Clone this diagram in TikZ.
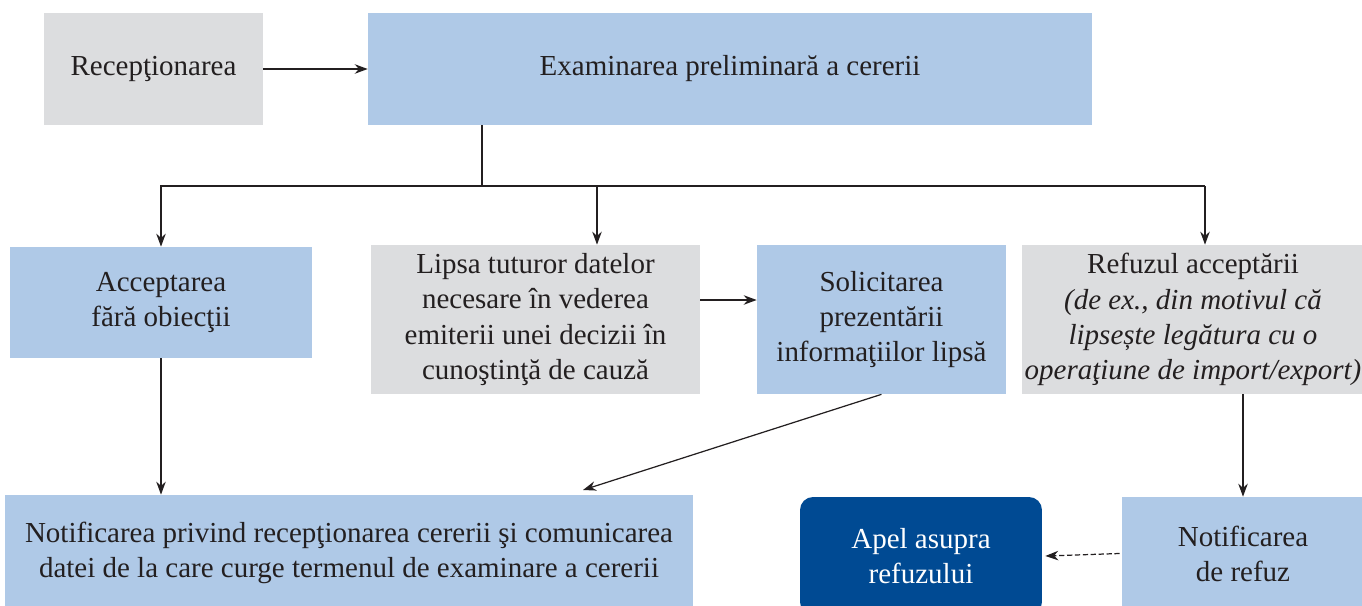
\documentclass[tikz,border=0pt]{standalone}
\usepackage{fontspec}
\setmainfont{Liberation Serif}
\usetikzlibrary{arrows.meta}
\definecolor{boxgray}{RGB}{220,221,223}
\definecolor{boxblue}{RGB}{175,201,231}
\definecolor{apelblue}{RGB}{0,74,147}
\definecolor{linegray}{RGB}{35,31,32}
\begin{document}
\begin{tikzpicture}[x=0.02cm, y=-0.02cm,
  every node/.style={font=\fontsize{16.5}{20}\selectfont, align=center, inner sep=0pt, text=linegray},
  greybox/.style={fill=boxgray},
  bluebox/.style={fill=boxblue},
  flow/.style={draw=linegray, line width=0.7pt, -{Stealth[length=2.6mm, width=1.9mm]}},
  link/.style={draw=linegray, line width=0.7pt}]
  \clip (0,0) rectangle (1362,605);
  % top row
  \node[greybox, minimum width=4.38cm, minimum height=2.24cm] (recep) at (153.5,69) {Recepţionarea};
  \node[bluebox, minimum width=14.48cm, minimum height=2.24cm] (exam) at (730,69) {Examinarea preliminară a cererii};
  % middle row
  \node[bluebox, minimum width=6.04cm, minimum height=2.22cm] (accept) at (161,302.5) {Acceptarea\\fără obiecţii};
  \node[greybox, minimum width=6.58cm, minimum height=2.98cm] (lipsa) at (535.5,319.5)
    {Lipsa tuturor datelor\\necesare în vederea\\emiterii unei decizii în\\cunoştinţă de cauză};
  \node[bluebox, minimum width=4.98cm, minimum height=2.98cm] (solicit) at (881.5,319.5)
    {Solicitarea\\prezentării\\informaţiilor lipsă};
  \node[greybox, minimum width=6.84cm, minimum height=2.98cm] (refuz) at (1193,319.5)
    {Refuzul acceptării\\\itshape(de ex., din motivul că\\\itshape lipsește legătura cu o\\\itshape operaţiune de import/export)};
  % bottom row
  \node[bluebox, minimum width=13.76cm, minimum height=2.3cm] (notif) at (349,552.5)
    {Notificarea privind recepţionarea cererii şi comunicarea\\datei de la care curge termenul de examinare a cererii};
  \node[fill=apelblue, rounded corners=0.26cm, minimum width=4.84cm, minimum height=2.36cm, text=white] (apel) at (921,556)
    {Apel asupra\\refuzului};
  \node[bluebox, minimum width=4.84cm, minimum height=2.26cm] (notifref) at (1243,553.5) {Notificarea\\de refuz};
  % connectors
  \coordinate (trunk) at (482,186);
  \coordinate (busmid) at (597,186);
  \coordinate (busright) at (1205,186);
  \coordinate (diagend) at (583,490);
  \draw[flow] (recep) -- (exam);
  \draw[link] (trunk |- exam.south) -- (trunk);
  \draw[flow] (trunk) -| (accept.north);
  \draw[link] (trunk) -- (busright);
  \draw[flow] (busmid) -- (busmid |- lipsa.north);
  \draw[flow] (busright) -- (busright |- refuz.north);
  \draw[flow] (lipsa.east |- 0,300) -- (solicit.west |- 0,300);
  \draw[flow] (accept.south) -- (accept.south |- notif.north);
  \draw[flow] (solicit.south) -- (diagend);
  \draw[flow] (notifref.north |- refuz.south) -- (notifref.north);
  \draw[flow, dashed, dash pattern=on 3pt off 1.5pt] ([xshift=-0.04cm]notifref.west) -- ([xshift=0.06cm]apel.east);
\end{tikzpicture}
\end{document}
